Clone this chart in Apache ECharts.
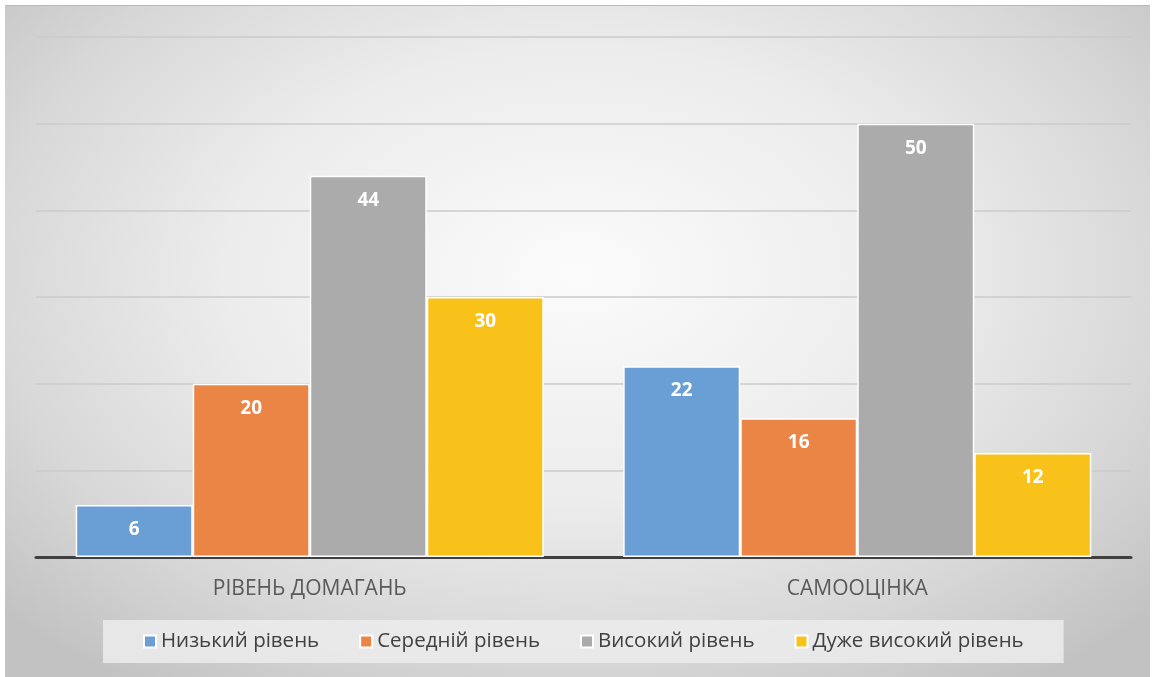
<!DOCTYPE html>
<html><head><meta charset="utf-8">
<script src="https://cdn.jsdelivr.net/npm/echarts@6/dist/echarts.min.js"></script>
<style>
html,body{margin:0;padding:0;background:#fff;width:1153px;height:677px;overflow:hidden;}
#c{position:absolute;left:5px;top:5px;width:1145px;height:672px;
background:radial-gradient(ellipse 68% 75% at 50% 40%, #fbfbfb 0%, #ececec 45%, #d8d8d8 75%, #c2c2c2 100%);
border-top:1.5px solid #b9b9b9;box-sizing:border-box;}
</style></head>
<body><div id="c"></div>
<script>
const categories = ['РІВЕНЬ ДОМАГАНЬ', 'САМООЦІНКА'];
const seriesNames = ['Низький рівень', 'Середній рівень', 'Високий рівень', 'Дуже високий рівень'];
const lowValues = [6, 22];
const midValues = [20, 16];
const highValues = [44, 50];
const veryHighValues = [30, 12];
const colors = ['#6a9fd5', '#eb8546', '#ababab', '#f8c21b'];
const allValues = [lowValues, midValues, highValues, veryHighValues];

const chart = echarts.init(document.getElementById('c'));
chart.setOption({
  animation: false,
  grid: {left: 31, right: 19, top: 31, bottom: 120, containLabel: false},
  xAxis: {
    type: 'category', data: categories,
    axisLine: {lineStyle: {color: '#404040', width: 3}},
    axisTick: {show: false},
    axisLabel: {fontSize: 21, color: '#595959', margin: 22, fontFamily: 'Open Sans'}
  },
  yAxis: {
    type: 'value', min: 0, max: 60, interval: 10,
    axisLabel: {show: false}, axisLine: {show: false}, axisTick: {show: false},
    splitLine: {lineStyle: {color: '#cbcbcb', width: 1.5}}
  },
  legend: {
    bottom: 14, left: 98,
    backgroundColor: 'rgba(236,236,236,0.85)',
    padding: [11, 40],
    itemGap: 40, itemWidth: 12, itemHeight: 12, icon: 'rect',
    textStyle: {fontSize: 20.5, color: '#404040', fontFamily: 'Open Sans'},
    data: seriesNames
  },
  series: allValues.map((vals, i) => ({
    name: seriesNames[i], type: 'bar', data: vals,
    barGap: '0%', barCategoryGap: '14.5%',
    itemStyle: {color: colors[i], borderColor: '#ffffff', borderWidth: 1.5},
    label: {show: true, position: 'insideTop', distance: 15, color: '#ffffff',
      fontSize: 19, fontWeight: 'bold', fontFamily: 'Open Sans'}
  }))
});
</script></body></html>
